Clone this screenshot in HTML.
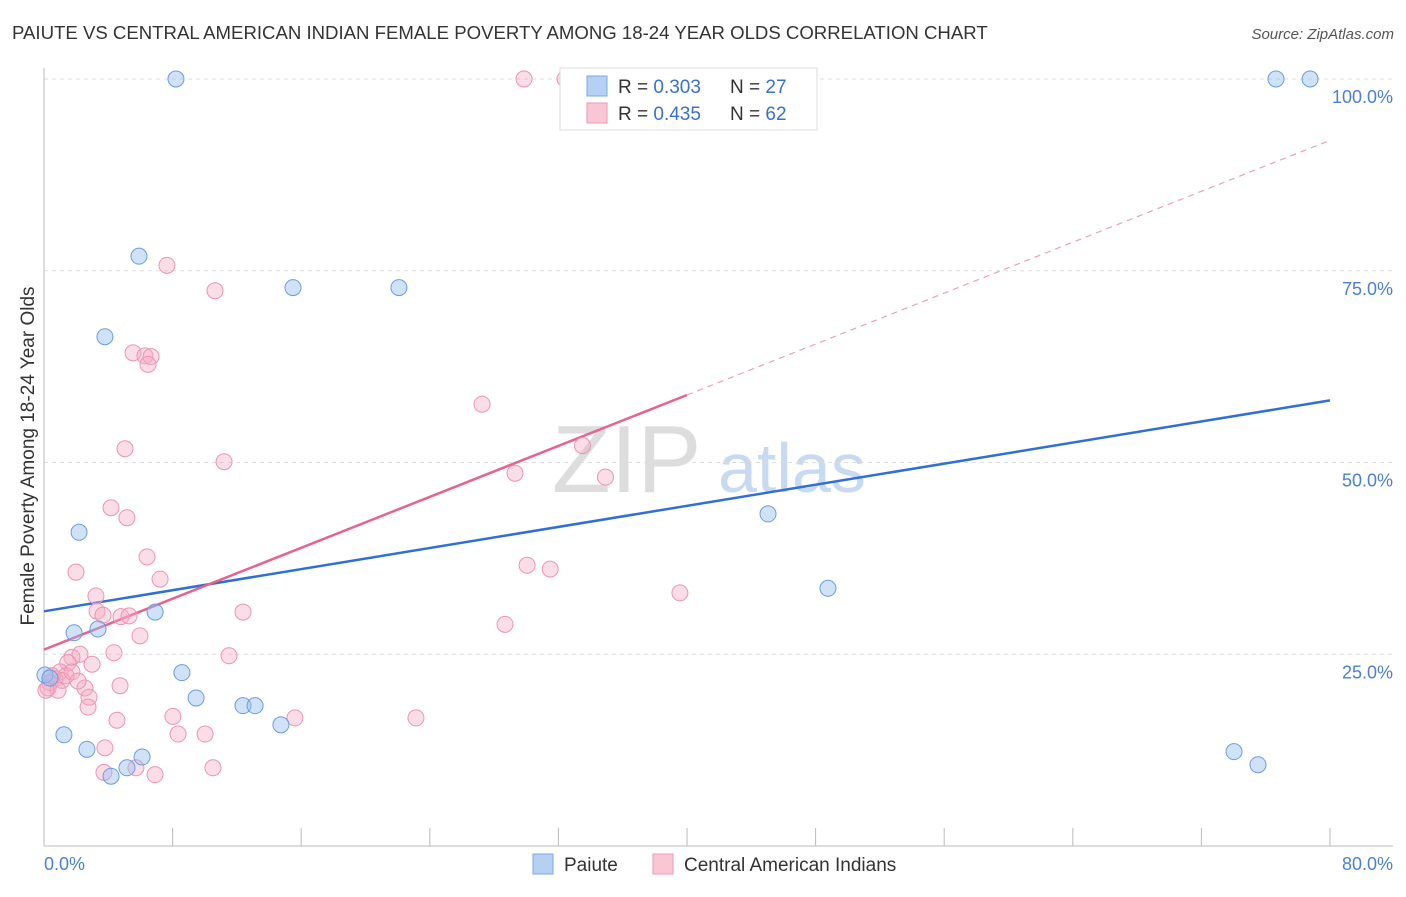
<!DOCTYPE html>
<html><head><meta charset="utf-8"><style>
body{margin:0;background:#fff;font-family:"Liberation Sans",sans-serif;}
svg text{font-family:"Liberation Sans",sans-serif;}
</style></head><body>
<svg id="chart" width="1406" height="892">
<text x="12" y="39" font-size="18.6" fill="#333">PAIUTE VS CENTRAL AMERICAN INDIAN FEMALE POVERTY AMONG 18-24 YEAR OLDS CORRELATION CHART</text>
<text x="1394" y="39" font-size="15" fill="#555" text-anchor="end" font-style="italic">Source: ZipAtlas.com</text>
<g><text x="552" y="492" font-size="96" fill="#ddd" font-family="Liberation Serif">ZIP</text><text x="718" y="492" font-size="70" fill="#c8daf2">atlas</text></g>
<g id="grid"></g><g id="axes"></g><g id="trends"></g><g id="pts"></g>
<text transform="translate(34,456) rotate(-90)" font-size="19" fill="#333" text-anchor="middle">Female Poverty Among 18-24 Year Olds</text>
<text x="44" y="870" font-size="18" fill="#4a7fd6">0.0%</text>
<text x="1393" y="870" font-size="18" fill="#4a7fd6" text-anchor="end">80.0%</text>
<g>
<rect x="560" y="68" width="257" height="62" fill="#fff" stroke="#ddd"/>
<rect x="587" y="76" width="20" height="20" fill="#b5d0f3" stroke="#7aa8e6"/>
<text x="618" y="93" font-size="19" fill="#333">R = <tspan fill="#3a6fd0">0.303</tspan></text>
<text x="730" y="93" font-size="19" fill="#333">N = <tspan fill="#3a6fd0">27</tspan></text>
<rect x="587" y="103" width="20" height="20" fill="#f8c6d5" stroke="#ec9ab4"/>
<text x="618" y="120" font-size="19" fill="#333">R = <tspan fill="#3a6fd0">0.435</tspan></text>
<text x="730" y="120" font-size="19" fill="#333">N = <tspan fill="#3a6fd0">62</tspan></text>
</g>
<g>
<rect x="533" y="854" width="20" height="20" fill="#b5d0f3" stroke="#7aa8e6"/>
<text x="564" y="871" font-size="19" fill="#333">Paiute</text>
<rect x="653" y="854" width="20" height="20" fill="#f8c6d5" stroke="#ec9ab4"/>
<text x="684" y="871" font-size="19" fill="#333">Central American Indians</text>
</g>
</svg>
<script>
const blueX=[8.21,5.91,3.79,15.49,22.08,2.18,6.91,1.87,3.36,8.58,9.46,12.38,13.13,14.74,1.24,2.67,6.10,5.16,4.17,45.04,48.77,76.64,78.76,74.03,75.52,0.06,0.37];
const blueY=[100,76.9,66.4,72.8,72.8,40.9,30.5,27.8,28.3,22.6,19.3,18.3,18.3,15.8,14.5,12.6,11.6,10.2,9.1,43.3,33.6,100,100,12.3,10.6,22.3,21.9];
const pinkX=[29.86,32.41,7.65,10.64,5.54,6.28,6.66,6.47,5.04,11.20,27.25,29.30,33.50,34.93,4.17,5.16,6.41,1.99,7.22,30.05,31.49,3.23,3.30,3.67,4.79,5.29,12.38,39.56,5.97,28.68,2.24,4.35,1.74,2.99,11.51,1.49,1.00,1.37,0.68,0.37,0.25,2.55,2.80,4.73,2.74,4.54,8.02,15.61,23.14,8.34,10.02,3.79,10.51,3.73,5.72,6.91,1.12,1.74,0.87,0.12,0.50,2.12];
const pinkY=[100,100,75.7,72.4,64.3,63.9,63.8,62.8,51.8,50.1,57.6,48.6,52.2,48.1,44.1,42.8,37.7,35.7,34.8,36.6,36.1,32.6,30.6,30.1,29.9,30.0,30.5,33.0,27.4,28.9,25.0,25.2,24.6,23.7,24.8,23.9,22.7,22.2,21.8,21.3,20.6,20.6,19.4,20.9,18.1,16.4,16.9,16.7,16.7,14.6,14.6,12.8,10.2,9.6,10.2,9.3,21.6,22.7,20.3,20.3,22.2,21.5];
const blueTrend=[30.6,58.1];
const pinkTrend=[25.6,92.0];
const yTicks=[25,50,75,100];
const xTicks=[0,8,16,24,32,40,48,56,64,72,80];
const sx=v=>44+v*16.075, sy=v=>846-v*7.67;
const NS="http://www.w3.org/2000/svg";
function mk(parent,tag,at){const e=document.createElementNS(NS,tag);for(const k in at)e.setAttribute(k,at[k]);document.getElementById(parent).appendChild(e);return e;}
yTicks.forEach(t=>{
 const l=mk('grid','line',{x1:44,x2:1393,y1:sy(t),y2:sy(t),stroke:'#ddd','stroke-dasharray':'4,4'});
 
 
 const tx=mk('grid','text',{x:1393,y:sy(t)+24,'font-size':18,fill:'#4a7fd6','text-anchor':'end'});
 tx.textContent=t.toFixed(1)+'%';
 
 
});
const ya=mk('axes','line',{x1:44,x2:44,y1:68,y2:846,stroke:'#bbb'});


const xa=mk('axes','line',{x1:44,x2:1393,y1:846,y2:846,stroke:'#bbb'});


xTicks.forEach(t=>{
 const l=mk('axes','line',{x1:sx(t),x2:sx(t),y1:828,y2:846,stroke:'#bbb'});
 
 
});
const bt=mk('trends','line',{x1:sx(0),y1:sy(blueTrend[0]),x2:sx(80),y2:sy(blueTrend[1]),stroke:'#2f6fd6','stroke-width':2.5});


const pm=pinkTrend[0]+(pinkTrend[1]-pinkTrend[0])*0.5;
const pt=mk('trends','line',{x1:sx(0),y1:sy(pinkTrend[0]),x2:sx(40),y2:sy(pm),stroke:'#e8628e','stroke-width':2.5});


const pd=mk('trends','line',{x1:sx(40),y1:sy(pm),x2:sx(80),y2:sy(pinkTrend[1]),stroke:'#eaa0b8','stroke-width':1.2,'stroke-dasharray':'6,5'});


pinkX.forEach((x,i)=>{
 const c=mk('pts','circle',{cx:sx(x),cy:sy(pinkY[i]),r:8,fill:'rgba(245,170,195,0.4)',stroke:'#eb95b1','stroke-width':1});
 
 
});
blueX.forEach((x,i)=>{
 const c=mk('pts','circle',{cx:sx(x),cy:sy(blueY[i]),r:8,fill:'rgba(150,190,240,0.45)',stroke:'#6b9de0','stroke-width':1});
 
 
});
</script>
</body></html>
